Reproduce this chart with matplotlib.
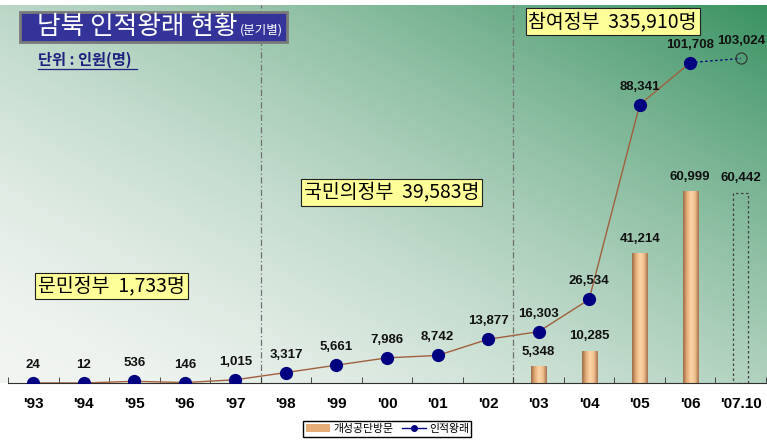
import numpy as np
import matplotlib.pyplot as plt
from matplotlib import colors
from matplotlib.patches import Rectangle, Patch
from matplotlib.lines import Line2D
from matplotlib.text import Annotation

plt.rcParams['font.family'] = ['Liberation Sans', 'Noto Sans CJK KR', 'DejaVu Sans']
KR = ['Noto Sans CJK KR', 'DejaVu Sans']

# data
years = ["'93", "'94", "'95", "'96", "'97", "'98", "'99", "'00", "'01", "'02",
         "'03", "'04", "'05", "'06", "'07.10"]
visits = [24, 12, 536, 146, 1015, 3317, 5661, 7986, 8742, 13877,
          16303, 26534, 88341, 101708]          # 인적왕래, '93 ~ '06
visit_0710 = 103024                             # '07.10 (partial year)
kaesong_years = ["'03", "'04", "'05", "'06"]
kaesong = [5348, 10285, 41214, 60999]           # 개성공단방문
kaesong_0710 = 60442
govts = ["문민정부  1,733명", "국민의정부  39,583명", "참여정부  335,910명"]

fig = plt.figure(figsize=(7.67, 4.40), dpi=100)

# gradient background (white lower-left -> green upper-right)
ax_bottom = 1 - 383 / 440
ax_top = 1 - 5 / 440
bg = fig.add_axes([0, ax_bottom, 1, ax_top - ax_bottom], zorder=0)
gx, gy = np.meshgrid(np.linspace(0, 1, 300), np.linspace(0, 1, 200))
f = np.clip(((gx * 1.0 + gy * 0.9) / 1.9), 0, 1) ** 1.6
c0 = np.array(colors.to_rgb('#f2f5f2'))
c1 = np.array(colors.to_rgb('#3a9262'))
img = c0 + (c1 - c0) * f[..., None]
bg.imshow(img, origin='lower', aspect='auto', extent=[0, 1, 0, 1])
bg.axis('off')

ax = fig.add_axes([8 / 767, ax_bottom, 758 / 767, ax_top - ax_bottom], zorder=1)
ax.patch.set_alpha(0)
x = np.arange(len(years))
xi = {y: i for i, y in enumerate(years)}
lab = dict(ha='center', va='bottom', fontsize=9.5, fontweight='bold', color='#111111')

# bars with a cylinder-like shading
bar_cmap = colors.LinearSegmentedColormap.from_list(
    'tan', ['#9c6c48', '#e6ad78', '#fcd6a8', '#f2c090', '#a5734c'])
bx = [xi[y] for y in kaesong_years]
bars = ax.bar(bx, kaesong, width=0.3, color='#f0bc88', zorder=2)
grad = np.linspace(0, 1, 64)[None, :]
for b in bars:
    im = ax.imshow(grad, cmap=bar_cmap, aspect='auto', zorder=2.1,
                   extent=[b.get_x(), b.get_x() + b.get_width(), 0, b.get_height()])
    im.set_clip_path(b)
    ax.text(b.get_x() + b.get_width() / 2, b.get_height() + 2600,
            f'{b.get_height():,.0f}', **lab)
b07 = ax.bar(xi["'07.10"], kaesong_0710, width=0.3, fill=False, edgecolor='#404040',
             linestyle=(0, (2, 2)), linewidth=0.9, zorder=2)[0]
ax.text(b07.get_x() + b07.get_width() / 2, kaesong_0710 + 2600, f'{kaesong_0710:,}', **lab)

# 인적왕래 line
lx = x[:len(visits)]
ax.plot(lx, visits, color='#a0603c', lw=1.0, zorder=3)
ax.plot(lx, visits, 'o', color='#000080', ms=8.5, zorder=4)
ax.plot([lx[-1], xi["'07.10"]], [visits[-1], visit_0710], color='#000080',
        lw=0.9, linestyle=(0, (2, 2)), zorder=3)
ax.plot(xi["'07.10"], visit_0710, 'o', mfc='none', mec='#303030', ms=8, mew=0.8, zorder=4)
for i, v in enumerate(visits):
    ax.text(i, v + 3800, f'{v:,}', **lab)
ax.text(xi["'07.10"], visit_0710 + 3800, f'{visit_0710:,}', **lab)

# government period separators
for xv in (4.5, 9.5):
    ax.axvline(xv, color='#707070', lw=0.9, linestyle=(0, (5, 2, 1, 2)), zorder=1)

box = dict(boxstyle='square,pad=0.15', fc='#ffff99', ec='#202020', lw=0.8)
ax.text(0.1, 30800, govts[0], fontsize=14, family=KR, va='center', bbox=box, zorder=5)
ax.text(5.35, 60600, govts[1], fontsize=14, family=KR, va='center', bbox=box, zorder=5)
ax.text(9.8, 114700, govts[2], fontsize=14, family=KR, va='center', bbox=box, zorder=5)

ax.set_xlim(-0.5, len(years) - 0.5)
ax.set_ylim(0, 120000)
ax.set_xticks(x)
ax.set_xticklabels(years, fontsize=11, fontweight='bold',
                   family=['Liberation Sans Narrow', 'Liberation Sans'])
ax.set_xticks(np.arange(-0.5, len(years)), minor=True)
ax.tick_params(axis='x', which='major', length=0, pad=10)
ax.tick_params(axis='x', which='minor', length=4, direction='in', color='#303030')
ax.set_yticks([])
for s in ('left', 'right', 'top'):
    ax.spines[s].set_visible(False)
ax.spines['bottom'].set_color('#303030')

# title box
fig.patches.append(Rectangle((20 / 767, 1 - 42 / 440), 267 / 767, 30 / 440,
                             transform=fig.transFigure, fc='#333399', ec='#7a7a7a',
                             lw=2, zorder=6))
title = fig.text(37 / 767, 1 - 27 / 440, '남북 인적왕래 현황', color='white', fontsize=18.5,
                 family=KR, va='center', zorder=7)
fig.add_artist(Annotation('(분기별)', xy=(1, 0.4), xycoords=title, xytext=(1.5, 0),
                          textcoords='offset points', color='white', fontsize=9,
                          family=KR, va='center', ha='left', zorder=7))
fig.text(38 / 767, 1 - 60 / 440, '단위 : 인원(명)', color='#202080', fontsize=11,
         fontweight='bold', family=KR, va='center', zorder=7)
fig.add_artist(Line2D([38 / 767, 137 / 767], [1 - 69 / 440, 1 - 69 / 440],
                      transform=fig.transFigure, color='#202080', lw=0.9))

# legend
handles = [Patch(fc='#e6ad78', ec='none'),
           Line2D([], [], color='#000080', lw=1, marker='o', ms=4)]
fig.legend(handles, ['개성공단방문', '인적왕래'], loc='lower center',
           bbox_to_anchor=(0.505, -0.005), ncol=2,
           prop={'family': KR, 'size': 7.8}, fancybox=False, edgecolor='black',
           framealpha=1, borderpad=0.25, handlelength=2.2, columnspacing=0.8,
           handletextpad=0.3)

fig.savefig('out.png', dpi=100)
